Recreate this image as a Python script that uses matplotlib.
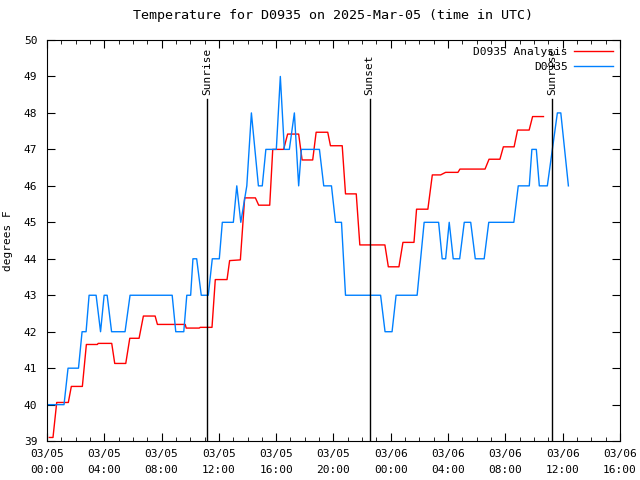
import matplotlib
matplotlib.use("Agg")
import matplotlib.pyplot as plt

plt.rcParams['font.family'] = ['DejaVu Sans Mono']
plt.rcParams['font.size'] = 8

# hours since 03/05 00:00 UTC
obs_hours = [0.0, 1.19, 1.47, 2.20, 2.45, 2.73, 2.94, 3.43, 3.74, 3.99, 4.20, 4.51,
             5.45, 5.80, 8.74, 8.99, 9.55, 9.76, 10.03, 10.19, 10.45, 10.77, 11.26,
             11.54, 12.03, 12.24, 13.01, 13.25, 13.53, 13.95, 14.27, 14.76, 15.03,
             15.28, 16.01, 16.29, 16.57, 16.92, 17.27, 17.57, 17.76, 19.02, 19.32,
             19.86, 20.14, 20.56, 20.84, 23.29, 23.60, 24.09, 24.37, 25.84, 26.33,
             27.34, 27.59, 27.83, 28.08, 28.36, 28.81, 29.13, 29.58, 29.90, 30.52,
             30.84, 32.59, 32.90, 33.67, 33.85, 34.16, 34.37, 34.93, 35.63, 35.87, 36.40]
obs_temp = [40, 40, 41, 41, 42, 42, 43, 43, 42, 43, 43, 42,
            42, 43, 43, 42, 42, 43, 43, 44, 44, 43, 43,
            44, 44, 45, 45, 46, 45, 46, 48, 46, 46,
            47, 47, 49, 47, 47, 48, 46, 47, 47, 46,
            46, 45, 45, 43, 43, 42, 42, 43, 43, 45,
            45, 44, 44, 45, 44, 44, 45, 45, 44, 44,
            45, 45, 46, 46, 47, 47, 46, 46, 48, 48, 46]

ana_hours = [0.16, 0.42, 0.68, 1.49, 1.70, 2.47, 2.75, 3.52, 3.57, 4.52, 4.73, 5.50,
             5.78, 6.43, 6.73, 7.55, 7.71, 9.65, 9.72, 10.63, 10.70, 11.52, 11.75,
             12.57, 12.75, 13.50, 13.80, 14.55, 14.78, 15.55, 15.76, 16.52, 16.80,
             17.57, 17.81, 18.55, 18.79, 19.60, 19.79, 20.61, 20.84, 21.59, 21.84,
             23.59, 23.83, 24.57, 24.85, 25.62, 25.80, 26.59, 26.90, 27.48, 27.83,
             28.69, 28.83, 30.58, 30.86, 31.62, 31.86, 32.61, 32.85, 33.66, 33.90, 34.66]
ana_temp = [39.1, 39.1, 40.06, 40.06, 40.5, 40.5, 41.65, 41.65, 41.68, 41.68, 41.13, 41.13,
            41.82, 41.82, 42.43, 42.43, 42.2, 42.2, 42.1, 42.1, 42.12, 42.12, 43.43,
            43.43, 43.95, 43.97, 45.67, 45.67, 45.47, 45.47, 47.0, 47.0, 47.42,
            47.42, 46.71, 46.71, 47.47, 47.47, 47.1, 47.1, 45.78, 45.78, 44.38,
            44.38, 43.78, 43.78, 44.45, 44.45, 45.36, 45.36, 46.3, 46.3, 46.37,
            46.37, 46.46, 46.46, 46.73, 46.73, 47.07, 47.07, 47.53, 47.53, 47.9, 47.9]

events = ["Sunrise", "Sunset", "Sunrise"]
event_hours = [11.19, 22.52, 35.24]

tick_hours = list(range(0, 41, 4))
tick_labels = ["03/05\n00:00", "03/05\n04:00", "03/05\n08:00", "03/05\n12:00",
               "03/05\n16:00", "03/05\n20:00", "03/06\n00:00", "03/06\n04:00",
               "03/06\n08:00", "03/06\n12:00", "03/06\n16:00"]

fig = plt.figure(figsize=(6.4, 4.8), dpi=100)
ax = fig.add_axes([0.0734, 0.081, 0.8953, 0.8357])

ax.plot(ana_hours, ana_temp, color="#ff0000", lw=1, label="D0935 Analysis")
ax.plot(obs_hours, obs_temp, color="#0080ff", lw=1, label="D0935")

line_top = 48.38
for name, h in zip(events, event_hours):
    ax.plot([h, h], [39, line_top], color="black", lw=1)
    ax.text(h, line_top + 0.12, name, rotation=90, ha="center", va="bottom")

ax.set_xlim(0, 40)
ax.set_ylim(39, 50)
ax.set_xticks(tick_hours)
ax.set_xticklabels(tick_labels, linespacing=1.7)
ax.set_xticks(range(0, 41), minor=True)
ax.set_yticks(range(39, 51))
ax.tick_params(which="both", direction="in", top=True, right=True)
ax.tick_params(which="major", length=6)
ax.tick_params(which="minor", length=3)
ax.tick_params(axis="x", pad=6)
ax.tick_params(axis="y", pad=7)
ax.set_ylabel("degrees F", labelpad=8)
ax.set_title("Temperature for D0935 on 2025-Mar-05 (time in UTC)", pad=15)

ax.legend(loc="upper right", frameon=False, markerfirst=False, handlelength=3.5,
          borderaxespad=0.2, labelspacing=0.45, handletextpad=0.6)

fig.savefig("out.png", dpi=100)
